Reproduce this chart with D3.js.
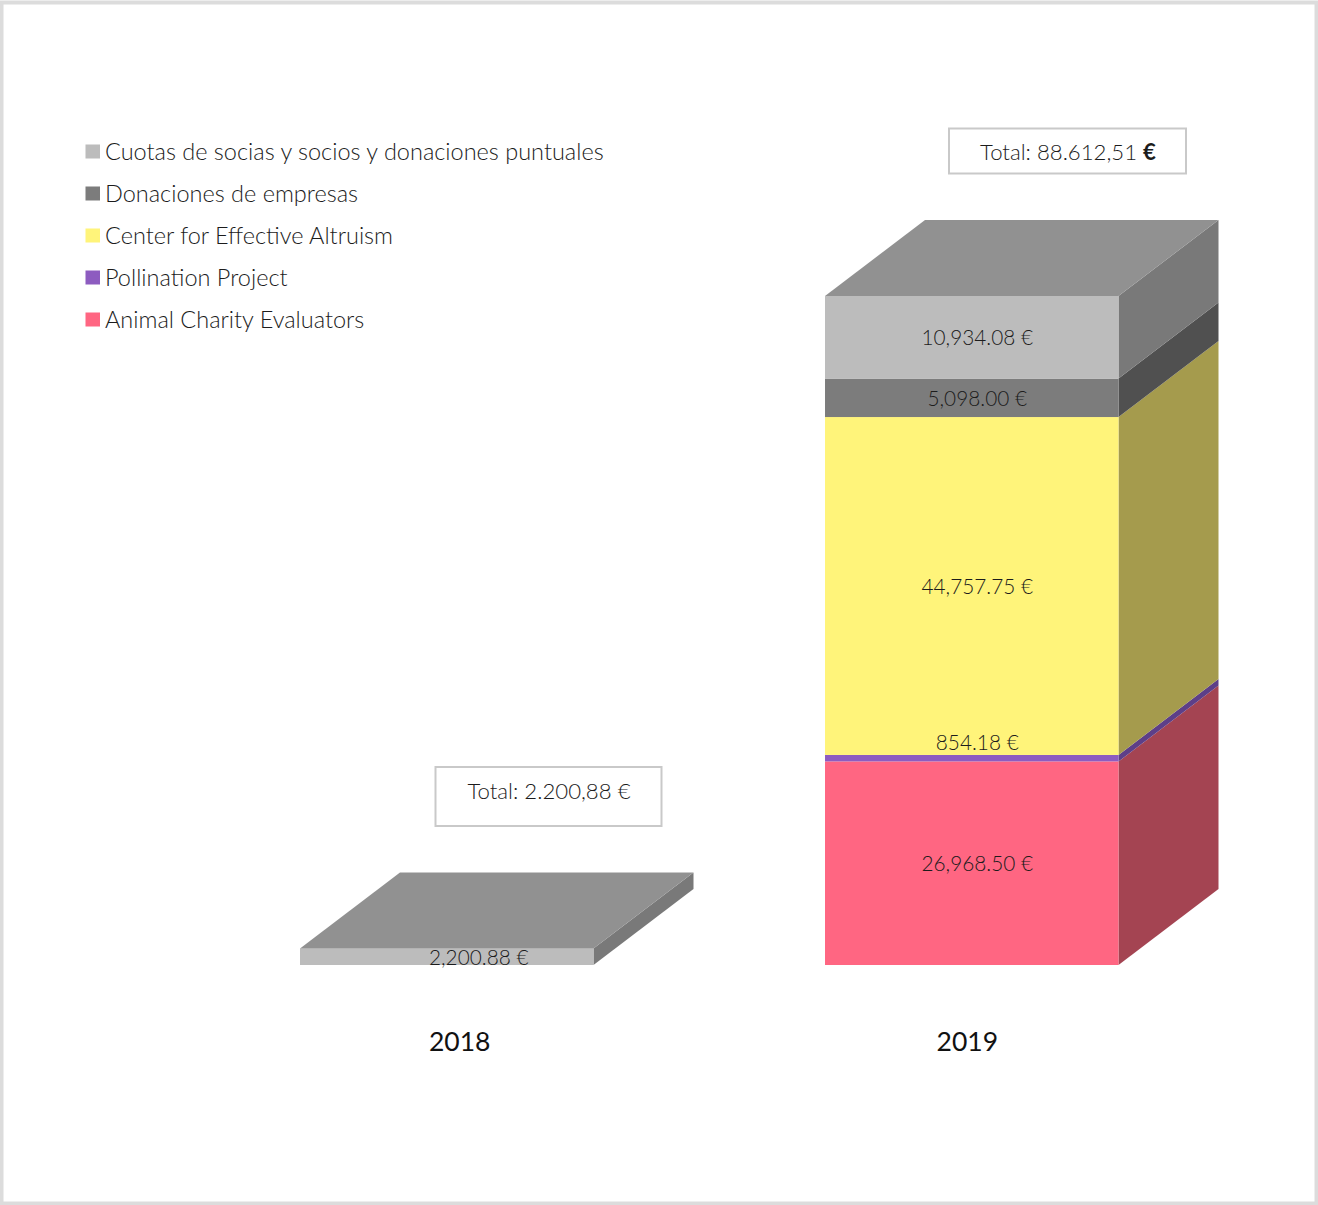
<!DOCTYPE html>
<html><head><meta charset="utf-8">
<script src="https://cdn.jsdelivr.net/npm/d3@7"></script>
<style>html,body{margin:0;background:#fff}svg{display:block}text{font-family:Lato,"Open Sans",sans-serif;fill:#1c1c1c}</style>
</head><body><svg id="c" width="1318" height="1205"></svg>
<script>
const years = ["2018", "2019"];
const seriesNames = ["Animal Charity Evaluators", "Pollination Project", "Center for Effective Altruism", "Donaciones de empresas", "Cuotas de socias y socios y donaciones puntuales"];
const values2018 = [0, 0, 0, 0, 2200.88];
const values2019 = [26968.50, 854.18, 44757.75, 5098.00, 10934.08];
const totalLabels = ["Total: 2.200,88 ", "Total: 88.612,51 "];
const frontColors = ["#ff6682", "#8d5cc0", "#fff47a", "#7c7c7c", "#bcbcbc"];
const sideColors = ["#a44452", "#5d3f88", "#a59b4d", "#505050", "#797979"];
const topColor = "#919191";

const svg = d3.select("#c");
svg.append("rect").attr("x",1.5).attr("y",2.5).attr("width",1315).attr("height",1201)
  .attr("fill","#fff").attr("stroke","#dcdcdc").attr("stroke-width",4);

const total = d3.sum(values2019);
const y = d3.scaleLinear().domain([0,total]).range([965,296]);
const x = d3.scaleBand().domain(years).range([300,1118.5]).paddingInner(0.441).paddingOuter(0);
const depthX = 100, depthY = 76;
const fmt = d3.format(",.2f");
const poly = (xa,ya,xb,yb,dx,dy)=>d3.line()([[xa,ya],[xb,yb],[xb+dx,yb-dy],[xa+dx,ya-dy]]);

years.forEach((yr,yi)=>{
  const vals = yi===0 ? values2018 : values2019;
  const stack = d3.stack().keys(d3.range(vals.length))([vals]);
  const x0 = x(yr), w = x.bandwidth();
  const g = svg.append("g");
  stack.forEach((s,i)=>{
    const [a,b] = s[0];
    if(b-a<=0) return;
    const xr = x0+w;
    g.append("path").attr("fill",sideColors[i])
      .attr("d",d3.line()([[xr,y(a)],[xr,y(b)],[xr+depthX,y(b)-depthY],[xr+depthX,y(a)-depthY]]));
    g.append("rect").attr("x",x0).attr("y",y(b)).attr("width",w).attr("height",y(a)-y(b)).attr("fill",frontColors[i]);
  });
  const topV = d3.sum(vals);
  g.append("path").attr("fill",topColor).attr("d",poly(x0,y(topV),x0+w,y(topV),depthX,depthY));
  stack.forEach((s,i)=>{
    const [a,b] = s[0];
    if(b-a<=0) return;
    const small = (b-a) < total*0.02 && yi===1;
    const cx = x0 + w/2 + (yi===0 ? 32 : 5.5);
    const cy = small ? y(b)-12 : (y(a)+y(b))/2 + 0.7;
    g.append("text").attr("x",cx).attr("y",cy).attr("dy","0.35em").attr("text-anchor","middle")
      .attr("font-size",20.8).attr("font-weight",300).text(fmt(vals[i])+" €");
  });
  svg.append("text").attr("x",x0+w/2+(yi===0?13:-4.5)).attr("y",1051).attr("text-anchor","middle")
    .attr("font-size",26.5).attr("font-weight",400).style("fill","#111").text(yr);
});

const boxes = [[435.5,767,226,59,549,791],[949,128.5,237,45,1068,152.5]];
boxes.forEach((b,i)=>{
  svg.append("rect").attr("x",b[0]).attr("y",b[1]).attr("width",b[2]).attr("height",b[3])
    .attr("fill","#fff").attr("stroke","#c9c9c9").attr("stroke-width",2);
  const t = svg.append("text").attr("x",b[4]).attr("y",b[5]).attr("dy","0.35em").attr("text-anchor","middle")
    .attr("font-size",22.2).attr("font-weight",300);
  t.append("tspan").text(totalLabels[i]);
  t.append("tspan").attr("font-weight",i===1?700:300).text("€");
});

const legendY = d3.scalePoint().domain(d3.range(5)).range([151.5,319.5]);
seriesNames.slice().reverse().forEach((n,k)=>{
  const c = frontColors[4-k];
  svg.append("rect").attr("x",85.5).attr("y",legendY(k)-7).attr("width",14.5).attr("height",14).attr("fill",c);
  svg.append("text").attr("x",105).attr("y",legendY(k)).attr("dy","0.35em").attr("font-size",23.5).attr("font-weight",300).text(n);
});
</script></body></html>
